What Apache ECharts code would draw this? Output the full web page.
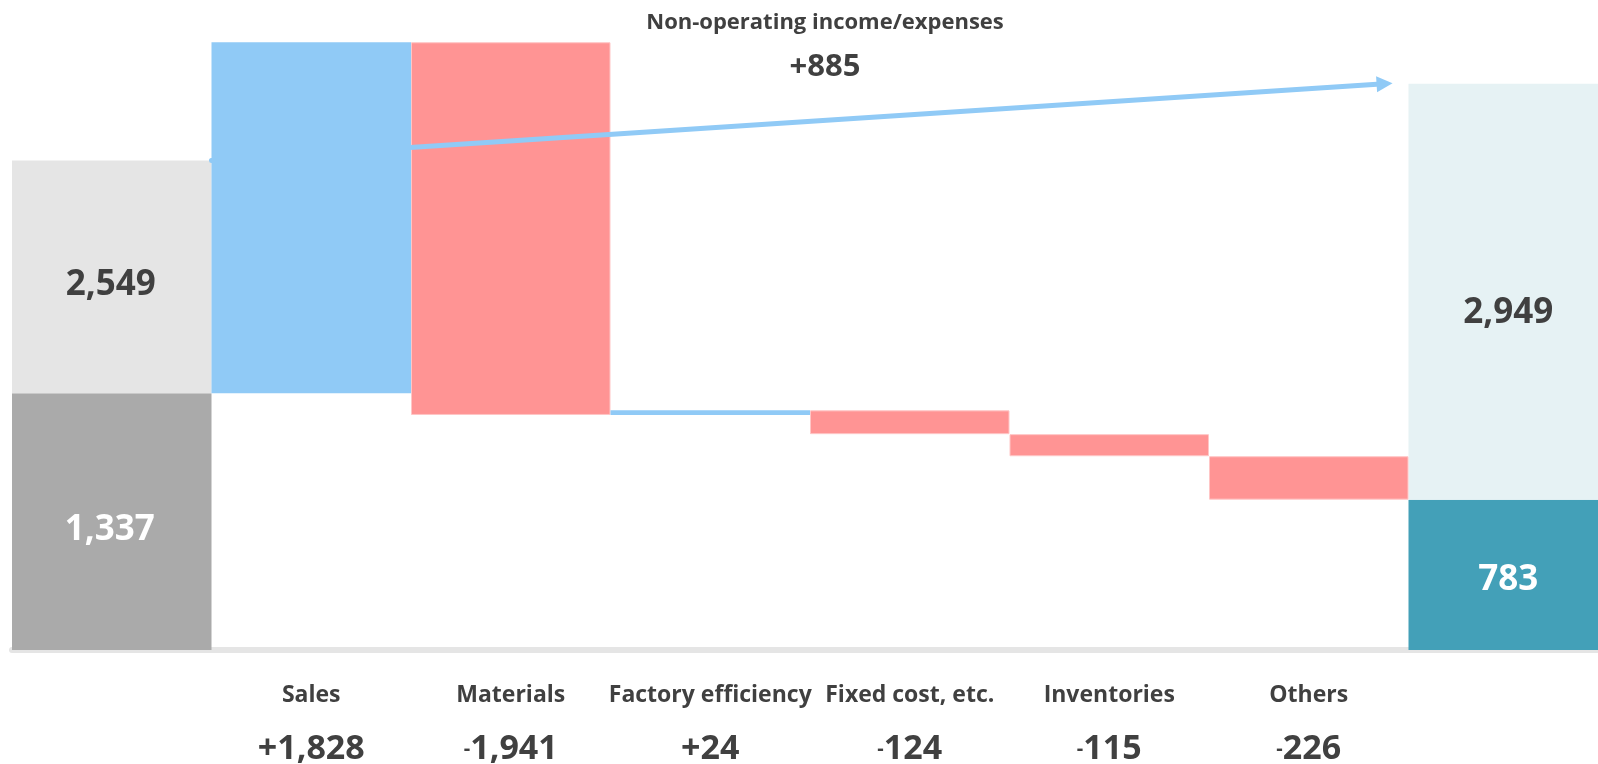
<!DOCTYPE html>
<html>
<head>
<meta charset="utf-8">
<title>Operating profit bridge</title>
<script src="https://cdn.jsdelivr.net/npm/echarts@6/dist/echarts.min.js"></script>
<style>
html, body { margin: 0; padding: 0; background: #fff; }
#chart { width: 1598px; height: 764px; }
</style>
</head>
<body>
<div id="chart"></div>
<script>
// bridge items (first and last column are the two totals)
var categories = ['', 'Sales', 'Materials', 'Factory efficiency', 'Fixed cost, etc.', 'Inventories', 'Others', ''];
var changes = [1828, -1941, 24, -124, -115, -226];
// previous / current year
var operatingProfit = [1337, 783];
var ordinaryProfit = [2549, 2949];
var nonOperating = 885;

var FONT = '"Open Sans", "Noto Sans", sans-serif';
var TEXT = '#404040';

function fmt(v) { return Math.abs(v).toLocaleString('en-US'); }

// invisible base + up/down pieces of the waterfall
var base = ['-'], ups = ['-'], downs = ['-'];
var level = operatingProfit[0];
changes.forEach(function (c) {
    if (c >= 0) { base.push(level); ups.push(c); downs.push('-'); }
    else { base.push(level + c); ups.push('-'); downs.push(-c); }
    level += c;
});
base.push('-'); ups.push('-'); downs.push('-');

var last = categories.length - 1;
var darkData = categories.map(function () { return '-'; });
var lightData = categories.map(function () { return '-'; });
darkData[0] = { value: operatingProfit[0], itemStyle: { color: '#aaaaaa' }, label: { offset: [-2, 8] } };
darkData[last] = { value: operatingProfit[1], itemStyle: { color: '#43a0b8' }, label: { offset: [0, 5] } };
lightData[0] = { value: ordinaryProfit[0] - operatingProfit[0], itemStyle: { color: '#e5e5e5' }, label: { offset: [-1, 8] } };
lightData[last] = { value: ordinaryProfit[1] - operatingProfit[1], itemStyle: { color: '#e6f2f4' }, label: { offset: [0, 21] } };

var chart = echarts.init(document.getElementById('chart'));

var option = {
    animation: false,
    grid: { left: 12, right: -10, top: 0, bottom: 114, containLabel: false, outerBoundsMode: 'none' },
    xAxis: [
        {
            type: 'category',
            data: categories,
            offset: 3,
            axisTick: { show: false },
            axisLine: { lineStyle: { color: '#e5e5e5', width: 6 } },
            axisLabel: {
                interval: 0,
                margin: 20,
                formatter: function (val, i) {
                    if (i === 0 || i === last) return '';
                    var c = changes[i - 1];
                    var num = c >= 0 ? '{v|+' + fmt(c) + '}' : '{m|-}{v|' + fmt(c) + '}';
                    return '{n|' + val + '}\n' + num;
                },
                rich: {
                    n: { fontFamily: FONT, fontWeight: 'bold', fontSize: 23, color: TEXT, lineHeight: 44 },
                    v: { fontFamily: FONT, fontWeight: 'bold', fontSize: 34, color: TEXT, lineHeight: 64 },
                    m: { fontFamily: FONT, fontWeight: 'bold', fontSize: 20, color: TEXT, lineHeight: 64 }
                }
            }
        },
        { type: 'value', min: 0, max: 8, show: false }
    ],
    yAxis: { type: 'value', min: 0, max: 3385, show: false },
    graphic: [
        {
            type: 'text', x: 825, y: 23,
            style: { text: 'Non-operating income/expenses', fontFamily: FONT, fontWeight: 'bold', fontSize: 22,
                     fill: TEXT, align: 'center', verticalAlign: 'middle' }
        },
        {
            type: 'text', x: 825, y: 67,
            style: { text: '+' + fmt(nonOperating), fontFamily: FONT, fontWeight: 'bold', fontSize: 31,
                     fill: TEXT, align: 'center', verticalAlign: 'middle' }
        }
    ],
    series: [
        {
            type: 'bar', stack: 'w', data: base, barCategoryGap: '0%',
            itemStyle: { color: 'transparent' }, silent: true
        },
        {
            type: 'bar', stack: 'w', data: darkData, barCategoryGap: '0%',
            label: {
                show: true, position: 'inside', color: '#fff', fontFamily: FONT, fontWeight: 'bold', fontSize: 35,
                formatter: function (p) { return fmt(operatingProfit[p.dataIndex === 0 ? 0 : 1]); }
            }
        },
        {
            type: 'bar', stack: 'w', data: lightData, barCategoryGap: '0%',
            label: {
                show: true, position: 'inside', color: TEXT, fontFamily: FONT, fontWeight: 'bold', fontSize: 35,
                formatter: function (p) { return fmt(ordinaryProfit[p.dataIndex === 0 ? 0 : 1]); }
            }
        },
        {
            type: 'bar', stack: 'w', data: ups, barCategoryGap: '0%', z: 6,
            itemStyle: { color: '#90caf6' }
        },
        {
            type: 'bar', stack: 'w', data: downs, barCategoryGap: '0%',
            itemStyle: { color: '#ff9494', borderColor: '#ffc6c6', borderWidth: 1 }
        },
        {
            // arrow for the non-operating part, from last year's to this year's ordinary profit
            type: 'line', xAxisIndex: 1, data: [],
            markLine: {
                z: 3, silent: true, animation: false,
                symbol: ['none', 'triangle'], symbolSize: 16,
                lineStyle: { color: '#90caf6', width: 5, type: 'solid', cap: 'round' },
                label: { show: false },
                data: [[{ coord: [1, ordinaryProfit[0]] }, { coord: [6.88, ordinaryProfit[1]] }]]
            }
        }
    ]
};

chart.setOption(option);
</script>
</body>
</html>
